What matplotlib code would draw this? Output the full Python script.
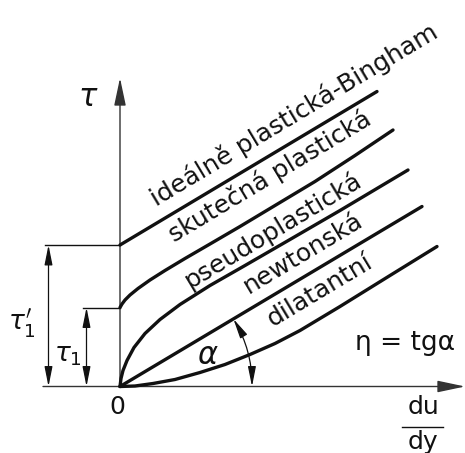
import matplotlib
matplotlib.use("Agg")
import numpy as np
import matplotlib.pyplot as plt
from matplotlib.patches import FancyArrowPatch

# flow curves, shear stress tau vs. shear rate du/dy (drawing units)
bingham_x = [0, 257]
bingham_y = [141.5, 295]

real_plastic_x = [0, 2, 5, 10, 18, 30, 45, 65, 90, 120, 155, 195, 235, 273]
real_plastic_y = [79, 82.5, 86.5, 91.5, 98, 106.5, 116, 128, 142.5, 160, 181, 205, 231, 256.5]

pseudo_x = [0, 1, 3, 7, 14, 25, 40, 60, 90, 125, 170, 220, 288]
pseudo_y = [0, 8, 16, 26, 39, 53, 67, 82, 101, 121, 147, 176, 216.5]

newton_x = [0, 302]
newton_y = [0, 180]

dilatant_x = [0, 15, 33, 55, 80, 105, 130, 155, 180, 220, 270, 317]
dilatant_y = [0, 0.5, 3, 7, 14, 22, 32, 43, 56, 80, 111, 140]

curve_labels = ["ideálně plastická-Bingham", "skutečná plastická",
                "pseudoplastická", "newtonská", "dilatantní"]
label_x = [174, 150, 153, 183.5, 199.5]
label_y = [272, 210, 157, 133.5, 96]

tau_1 = 79          # yield stress of the real plastic
tau_1_prime = 141.5  # Bingham yield stress
alpha_radius = 132

fig = plt.figure(figsize=(4.65, 4.53), dpi=100)
ax = fig.add_axes([0, 0, 1, 1])
ax.set_xlim(-120, 345)
ax.set_ylim(-66.5, 386.5)
ax.set_aspect("equal")
ax.axis("off")

black = "#111111"
curves = [(bingham_x, bingham_y), (real_plastic_x, real_plastic_y),
          (pseudo_x, pseudo_y), (newton_x, newton_y), (dilatant_x, dilatant_y)]
for xs, ys in curves:
    ax.plot(xs, ys, color=black, lw=2.4, solid_capstyle="round",
            solid_joinstyle="round")

# axes with arrows
ax.add_patch(FancyArrowPatch((0, 0), (0, 308.5), arrowstyle="-|>,head_length=17,head_width=3.6",
                             mutation_scale=1, color="#333333", lw=1.0, shrinkA=0, shrinkB=0))
ax.add_patch(FancyArrowPatch((-77, 0), (345, 0), arrowstyle="-|>,head_length=17,head_width=3.6",
                             mutation_scale=1, color="#333333", lw=1.0, shrinkA=0, shrinkB=0))

# yield stress dimensions
ax.plot([-75, 0], [tau_1_prime, tau_1_prime], color=black, lw=1.0)
ax.plot([-37.5, 0], [tau_1, tau_1], color=black, lw=1.0)
for xd, top in [(-71.5, tau_1_prime), (-33.5, tau_1)]:
    ax.add_patch(FancyArrowPatch((xd, 0), (xd, top), arrowstyle="<|-|>,head_length=12,head_width=2.4",
                                 mutation_scale=1, color=black, lw=0.9, shrinkA=0, shrinkB=0))

# angle alpha of the newtonian line
theta = np.arctan2(newton_y[1], newton_x[1])
ax.add_patch(FancyArrowPatch((alpha_radius, 0),
                             (alpha_radius * np.cos(theta), alpha_radius * np.sin(theta)),
                             connectionstyle="arc3,rad=0.136",
                             arrowstyle="<|-|>,head_length=12,head_width=2.4",
                             mutation_scale=1, color=black, lw=0.9, shrinkA=0, shrinkB=0))

font = "DejaVu Sans"
for text, x, y in zip(curve_labels, label_x, label_y):
    ax.text(x, y, text, rotation=31, rotation_mode="anchor", ha="center", va="center",
            fontsize=18, family=font, color=black)

ax.text(-32, 288.5, r"$\tau$", fontsize=22, ha="center", va="center", color=black)
ax.text(-98, 63.5, r"$\tau_1'$", fontsize=19, ha="center", va="center", color=black)
ax.text(-52, 31.5, r"$\tau_1$", fontsize=19, ha="center", va="center", color=black)
ax.text(88, 31.5, r"$\alpha$", fontsize=22, ha="center", va="center", color=black)
ax.text(-3, -20.5, "0", fontsize=18, family=font, ha="center", va="center", color=black)
ax.text(285.5, 44, "η = tgα", fontsize=19, family=font, ha="center", va="center", color=black)
ax.text(303, -21, "du", fontsize=18, family=font, ha="center", va="center", color=black)
ax.plot([282, 323], [-40, -40], color=black, lw=1.0)
ax.text(303, -55, "dy", fontsize=18, family=font, ha="center", va="center", color=black)

fig.savefig("out.png", dpi=100, facecolor="white")
